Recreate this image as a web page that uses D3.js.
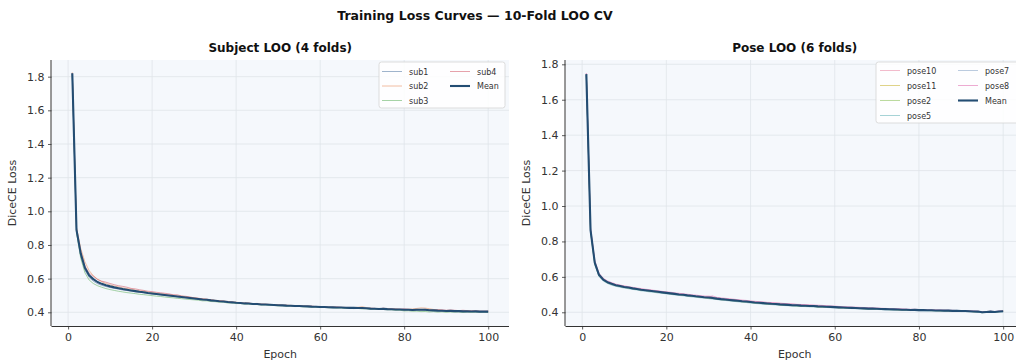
<!DOCTYPE html>
<html>
<head>
<meta charset="utf-8">
<script src="https://cdn.jsdelivr.net/npm/d3@7"></script>
<style>
  body { margin: 0; background: #fff; }
  svg { display: block; font-family: "DejaVu Sans", sans-serif; }
</style>
</head>
<body>
<svg id="chart" width="1016" height="362"></svg>
<script>
// ---- Training loss per epoch (epochs 1..100) ----
const subjectFolds = ["sub1", "sub2", "sub3", "sub4"];
const sub1 = [
  1.818, 0.880, 0.735, 0.650, 0.607, 0.585, 0.570, 0.560, 0.553, 0.547,
  0.542, 0.538, 0.532, 0.529, 0.526, 0.522, 0.519, 0.516, 0.513, 0.509,
  0.507, 0.504, 0.500, 0.498, 0.496, 0.492, 0.490, 0.487, 0.484, 0.481,
  0.479, 0.475, 0.474, 0.470, 0.469, 0.465, 0.463, 0.461, 0.458, 0.457,
  0.456, 0.452, 0.451, 0.451, 0.448, 0.447, 0.445, 0.446, 0.442, 0.441,
  0.441, 0.439, 0.440, 0.437, 0.436, 0.437, 0.434, 0.433, 0.434, 0.431,
  0.430, 0.431, 0.428, 0.428, 0.429, 0.426, 0.425, 0.427, 0.424, 0.423,
  0.424, 0.421, 0.420, 0.421, 0.418, 0.419, 0.417, 0.416, 0.417, 0.414,
  0.416, 0.413, 0.412, 0.414, 0.411, 0.410, 0.412, 0.409, 0.408, 0.410,
  0.407, 0.406, 0.408, 0.405, 0.405, 0.406, 0.404, 0.403, 0.405, 0.403
];
const sub2 = [
  1.825, 0.905, 0.780, 0.700, 0.648, 0.618, 0.597, 0.582, 0.571, 0.563,
  0.556, 0.551, 0.545, 0.541, 0.538, 0.532, 0.528, 0.526, 0.520, 0.517,
  0.514, 0.510, 0.508, 0.504, 0.502, 0.497, 0.496, 0.492, 0.489, 0.487,
  0.482, 0.481, 0.477, 0.475, 0.471, 0.470, 0.466, 0.465, 0.461, 0.460,
  0.457, 0.456, 0.454, 0.452, 0.453, 0.449, 0.448, 0.447, 0.445, 0.446,
  0.443, 0.442, 0.441, 0.440, 0.439, 0.437, 0.438, 0.435, 0.435, 0.433,
  0.433, 0.431, 0.431, 0.430, 0.429, 0.429, 0.427, 0.428, 0.430, 0.433,
  0.428, 0.424, 0.422, 0.423, 0.421, 0.420, 0.419, 0.420, 0.417, 0.416,
  0.418, 0.420, 0.423, 0.426, 0.425, 0.421, 0.417, 0.414, 0.411, 0.410,
  0.410, 0.408, 0.409, 0.407, 0.408, 0.406, 0.406, 0.405, 0.404, 0.405
];
const sub3 = [
  1.815, 0.875, 0.722, 0.635, 0.592, 0.571, 0.558, 0.549, 0.541, 0.535,
  0.530, 0.525, 0.521, 0.517, 0.514, 0.511, 0.507, 0.505, 0.502, 0.499,
  0.496, 0.494, 0.491, 0.488, 0.486, 0.483, 0.481, 0.478, 0.476, 0.474,
  0.472, 0.468, 0.468, 0.464, 0.463, 0.460, 0.460, 0.455, 0.456, 0.452,
  0.452, 0.449, 0.449, 0.446, 0.446, 0.443, 0.444, 0.440, 0.441, 0.438,
  0.439, 0.436, 0.437, 0.434, 0.435, 0.432, 0.433, 0.430, 0.431, 0.428,
  0.429, 0.427, 0.427, 0.425, 0.426, 0.423, 0.424, 0.422, 0.423, 0.420,
  0.421, 0.418, 0.419, 0.417, 0.417, 0.415, 0.415, 0.412, 0.412, 0.408,
  0.409, 0.406, 0.407, 0.404, 0.405, 0.402, 0.404, 0.401, 0.403, 0.400,
  0.402, 0.401, 0.402, 0.399, 0.402, 0.399, 0.401, 0.400, 0.401, 0.399
];
const sub4 = [
  1.822, 0.900, 0.763, 0.675, 0.633, 0.614, 0.595, 0.585, 0.579, 0.571,
  0.564, 0.558, 0.554, 0.549, 0.542, 0.539, 0.534, 0.530, 0.525, 0.523,
  0.519, 0.516, 0.513, 0.510, 0.504, 0.504, 0.497, 0.495, 0.491, 0.486,
  0.484, 0.479, 0.478, 0.474, 0.470, 0.468, 0.468, 0.462, 0.462, 0.458,
  0.456, 0.454, 0.455, 0.450, 0.450, 0.448, 0.448, 0.446, 0.445, 0.442,
  0.442, 0.442, 0.439, 0.440, 0.439, 0.437, 0.436, 0.437, 0.433, 0.435,
  0.433, 0.430, 0.431, 0.432, 0.429, 0.429, 0.429, 0.428, 0.424, 0.425,
  0.422, 0.424, 0.424, 0.418, 0.425, 0.421, 0.422, 0.419, 0.419, 0.421,
  0.418, 0.416, 0.417, 0.415, 0.418, 0.414, 0.413, 0.415, 0.415, 0.412,
  0.414, 0.412, 0.410, 0.412, 0.410, 0.409, 0.410, 0.407, 0.407, 0.408
];

const poseFolds = ["pose10", "pose11", "pose2", "pose5", "pose7", "pose8"];
const pose10 = [
  1.748, 0.872, 0.688, 0.618, 0.590, 0.574, 0.565, 0.557, 0.551, 0.547,
  0.543, 0.538, 0.535, 0.531, 0.527, 0.525, 0.521, 0.519, 0.515, 0.513,
  0.509, 0.507, 0.504, 0.502, 0.498, 0.496, 0.493, 0.491, 0.488, 0.492,
  0.485, 0.481, 0.478, 0.476, 0.474, 0.471, 0.469, 0.466, 0.465, 0.462,
  0.460, 0.458, 0.457, 0.455, 0.453, 0.452, 0.451, 0.449, 0.447, 0.446,
  0.444, 0.443, 0.441, 0.440, 0.439, 0.437, 0.436, 0.435, 0.433, 0.432,
  0.430, 0.429, 0.428, 0.427, 0.426, 0.425, 0.424, 0.423, 0.423, 0.422,
  0.421, 0.420, 0.419, 0.418, 0.418, 0.417, 0.416, 0.415, 0.415, 0.414,
  0.414, 0.413, 0.413, 0.412, 0.411, 0.411, 0.410, 0.410, 0.409, 0.409,
  0.408, 0.408, 0.407, 0.406, 0.403, 0.404, 0.405, 0.404, 0.406, 0.407
];
const pose11 = [
  1.743, 0.860, 0.676, 0.609, 0.583, 0.568, 0.559, 0.552, 0.547, 0.541,
  0.538, 0.534, 0.529, 0.526, 0.523, 0.519, 0.517, 0.513, 0.511, 0.507,
  0.505, 0.501, 0.499, 0.497, 0.493, 0.491, 0.488, 0.486, 0.482, 0.480,
  0.478, 0.476, 0.471, 0.471, 0.466, 0.466, 0.463, 0.459, 0.459, 0.456,
  0.452, 0.452, 0.450, 0.446, 0.444, 0.446, 0.441, 0.441, 0.438, 0.438,
  0.437, 0.434, 0.435, 0.432, 0.434, 0.430, 0.429, 0.430, 0.427, 0.428,
  0.425, 0.426, 0.423, 0.425, 0.421, 0.422, 0.419, 0.420, 0.418, 0.419,
  0.416, 0.417, 0.415, 0.416, 0.413, 0.414, 0.412, 0.413, 0.411, 0.412,
  0.410, 0.411, 0.409, 0.410, 0.408, 0.409, 0.407, 0.408, 0.406, 0.407,
  0.405, 0.406, 0.402, 0.404, 0.398, 0.402, 0.402, 0.402, 0.403, 0.406
];
const pose2 = [
  1.741, 0.858, 0.674, 0.607, 0.581, 0.567, 0.558, 0.550, 0.546, 0.540,
  0.537, 0.533, 0.530, 0.525, 0.523, 0.520, 0.516, 0.514, 0.511, 0.508,
  0.505, 0.502, 0.499, 0.497, 0.494, 0.491, 0.488, 0.486, 0.483, 0.480,
  0.477, 0.475, 0.472, 0.470, 0.467, 0.465, 0.462, 0.460, 0.458, 0.455,
  0.453, 0.451, 0.449, 0.447, 0.446, 0.444, 0.442, 0.440, 0.439, 0.437,
  0.436, 0.435, 0.434, 0.433, 0.432, 0.431, 0.430, 0.429, 0.428, 0.427,
  0.426, 0.425, 0.424, 0.423, 0.422, 0.421, 0.421, 0.419, 0.419, 0.418,
  0.417, 0.416, 0.415, 0.415, 0.414, 0.413, 0.413, 0.412, 0.412, 0.411,
  0.411, 0.410, 0.410, 0.409, 0.409, 0.408, 0.408, 0.407, 0.407, 0.406,
  0.406, 0.405, 0.404, 0.403, 0.398, 0.401, 0.403, 0.401, 0.404, 0.405
];
const pose5 = [
  1.740, 0.852, 0.668, 0.602, 0.577, 0.563, 0.553, 0.547, 0.541, 0.537,
  0.533, 0.529, 0.526, 0.521, 0.519, 0.515, 0.513, 0.509, 0.507, 0.504,
  0.501, 0.498, 0.495, 0.493, 0.490, 0.487, 0.485, 0.482, 0.480, 0.477,
  0.474, 0.472, 0.469, 0.467, 0.464, 0.462, 0.459, 0.457, 0.455, 0.452,
  0.450, 0.448, 0.446, 0.445, 0.443, 0.441, 0.440, 0.438, 0.437, 0.435,
  0.434, 0.433, 0.432, 0.431, 0.430, 0.429, 0.428, 0.427, 0.426, 0.425,
  0.424, 0.423, 0.422, 0.421, 0.420, 0.419, 0.418, 0.417, 0.417, 0.416,
  0.415, 0.414, 0.413, 0.413, 0.412, 0.411, 0.411, 0.410, 0.410, 0.409,
  0.409, 0.408, 0.408, 0.407, 0.407, 0.406, 0.406, 0.405, 0.405, 0.404,
  0.404, 0.403, 0.402, 0.401, 0.397, 0.399, 0.401, 0.399, 0.402, 0.403
];
const pose7 = [
  1.746, 0.867, 0.682, 0.613, 0.586, 0.571, 0.562, 0.554, 0.549, 0.544,
  0.541, 0.536, 0.533, 0.528, 0.526, 0.522, 0.520, 0.516, 0.514, 0.510,
  0.507, 0.505, 0.501, 0.500, 0.496, 0.494, 0.490, 0.489, 0.485, 0.483,
  0.481, 0.476, 0.476, 0.471, 0.471, 0.466, 0.466, 0.463, 0.460, 0.458,
  0.455, 0.454, 0.451, 0.450, 0.447, 0.447, 0.444, 0.443, 0.443, 0.438,
  0.440, 0.436, 0.438, 0.434, 0.436, 0.432, 0.434, 0.430, 0.432, 0.428,
  0.430, 0.426, 0.428, 0.424, 0.426, 0.422, 0.424, 0.420, 0.423, 0.419,
  0.421, 0.417, 0.419, 0.416, 0.418, 0.414, 0.417, 0.413, 0.416, 0.412,
  0.415, 0.411, 0.414, 0.410, 0.413, 0.409, 0.412, 0.408, 0.411, 0.407,
  0.410, 0.406, 0.407, 0.404, 0.402, 0.402, 0.406, 0.402, 0.407, 0.406
];
const pose8 = [
  1.750, 0.876, 0.692, 0.621, 0.593, 0.577, 0.568, 0.559, 0.554, 0.549,
  0.545, 0.541, 0.537, 0.534, 0.530, 0.528, 0.524, 0.522, 0.518, 0.516,
  0.513, 0.510, 0.507, 0.505, 0.502, 0.499, 0.497, 0.494, 0.492, 0.489,
  0.492, 0.484, 0.481, 0.479, 0.476, 0.474, 0.471, 0.469, 0.467, 0.464,
  0.462, 0.460, 0.458, 0.456, 0.455, 0.453, 0.451, 0.450, 0.448, 0.447,
  0.445, 0.444, 0.443, 0.442, 0.441, 0.440, 0.439, 0.437, 0.436, 0.435,
  0.433, 0.432, 0.431, 0.430, 0.429, 0.428, 0.427, 0.426, 0.425, 0.424,
  0.423, 0.422, 0.421, 0.420, 0.420, 0.419, 0.418, 0.417, 0.417, 0.416,
  0.415, 0.414, 0.414, 0.413, 0.413, 0.412, 0.412, 0.411, 0.410, 0.410,
  0.409, 0.408, 0.407, 0.406, 0.402, 0.404, 0.406, 0.404, 0.407, 0.408
];

const xTicks = [0, 20, 40, 60, 80, 100];
const yTicks = [0.4, 0.6, 0.8, 1.0, 1.2, 1.4, 1.6, 1.8];

// ---- Drawing ----
const svg = d3.select("#chart");
const axisColor = "#333";
const meanColor = "#234d73";

svg.append("text")
  .attr("x", 475).attr("y", 20)
  .attr("text-anchor", "middle")
  .attr("font-size", 12.5).attr("font-weight", "bold")
  .attr("fill", "#111")
  .text("Training Loss Curves \u2014 10-Fold LOO CV");

function drawPanel(cfg) {
  const x = d3.scaleLinear().domain([-3.95, 104.95]).range([cfg.left, cfg.right]);
  const y = d3.scaleLinear().domain(cfg.yDomain).range([cfg.bottom, cfg.top]);
  const g = svg.append("g");

  const clipId = "clip-" + cfg.id;
  svg.append("clipPath").attr("id", clipId)
    .append("rect")
    .attr("x", cfg.left).attr("y", cfg.top)
    .attr("width", cfg.right - cfg.left).attr("height", cfg.bottom - cfg.top);

  // plot background
  g.append("rect")
    .attr("x", cfg.left).attr("y", cfg.top)
    .attr("width", cfg.right - cfg.left).attr("height", cfg.bottom - cfg.top)
    .attr("fill", "#f5f8fc");

  // grid
  const grid = g.append("g").attr("stroke", "#dfe4ea").attr("stroke-width", 0.8);
  grid.selectAll(".gx").data(xTicks).join("line")
    .attr("x1", d => x(d)).attr("x2", d => x(d))
    .attr("y1", cfg.top).attr("y2", cfg.bottom);
  grid.selectAll(".gy").data(yTicks).join("line")
    .attr("x1", cfg.left).attr("x2", cfg.right)
    .attr("y1", d => y(d)).attr("y2", d => y(d));

  // curves
  const line = d3.line().x((d, i) => x(i + 1)).y(d => y(d));
  const plot = g.append("g").attr("clip-path", `url(#${clipId})`);
  cfg.series.forEach((s, k) => {
    plot.append("path")
      .datum(s)
      .attr("fill", "none")
      .attr("stroke", cfg.colors[k])
      .attr("stroke-width", 0.9)
      .attr("stroke-opacity", 0.65)
      .attr("d", line);
  });
  const mean = cfg.series[0].map((_, i) => d3.mean(cfg.series, s => s[i]));
  plot.append("path")
    .datum(mean)
    .attr("fill", "none")
    .attr("stroke", meanColor)
    .attr("stroke-width", 2.1)
    .attr("stroke-linejoin", "round")
    .attr("d", line);

  // axes
  const xAxis = d3.axisBottom(x).tickValues(xTicks).tickSize(3.5).tickPadding(3.5).tickFormat(d3.format("d"));
  const yAxis = d3.axisLeft(y).tickValues(yTicks).tickSize(3.5).tickPadding(3.5).tickFormat(d3.format(".1f"));
  const gx = g.append("g").attr("transform", `translate(0,${cfg.bottom})`).call(xAxis);
  const gy = g.append("g").attr("transform", `translate(${cfg.left},0)`).call(yAxis);
  [gx, gy].forEach(a => {
    a.select(".domain").attr("stroke", axisColor).attr("stroke-width", 1);
    a.selectAll(".tick line").attr("stroke", axisColor).attr("stroke-width", 0.8);
    a.selectAll(".tick text").attr("fill", axisColor)
      .attr("font-size", 11).attr("font-family", "DejaVu Sans, sans-serif");
  });
  gx.select(".domain").attr("d", `M${cfg.left},0.5H${cfg.right}`);
  gy.select(".domain").attr("d", `M-0.5,${cfg.bottom}V${cfg.top}`);

  // titles and labels
  const cx = (cfg.left + cfg.right) / 2;
  g.append("text").attr("x", cx).attr("y", 52)
    .attr("text-anchor", "middle").attr("font-size", 12).attr("font-weight", "bold")
    .attr("fill", "#111").text(cfg.title);
  g.append("text").attr("x", cx).attr("y", 358)
    .attr("text-anchor", "middle").attr("font-size", 11).attr("fill", axisColor)
    .text("Epoch");
  g.append("text")
    .attr("transform", `translate(${cfg.left - 36},${(cfg.top + cfg.bottom) / 2}) rotate(-90)`)
    .attr("text-anchor", "middle").attr("font-size", 11).attr("fill", axisColor)
    .text("DiceCE Loss");

  // legend (two columns, filled column by column)
  const L = cfg.legend;
  const names = cfg.names.concat(["Mean"]);
  const colors = cfg.colors.concat([meanColor]);
  const rows = Math.ceil(names.length / 2);
  const lg = g.append("g");
  lg.append("rect")
    .attr("x", L.x).attr("y", L.y).attr("width", L.w).attr("height", L.h)
    .attr("rx", 2.5)
    .attr("fill", "#fff").attr("fill-opacity", 0.85)
    .attr("stroke", "#d4d4d4").attr("stroke-width", 0.8);
  names.forEach((n, i) => {
    const col = Math.floor(i / rows), row = i % rows;
    const hx = L.x + L.pad + col * L.colW;
    const hy = L.y + L.firstRow + row * L.rowH;
    const isMean = n === "Mean";
    lg.append("line")
      .attr("x1", hx).attr("x2", hx + 20).attr("y1", hy).attr("y2", hy)
      .attr("stroke", colors[i])
      .attr("stroke-width", isMean ? 2.1 : 0.9)
      .attr("stroke-opacity", isMean ? 1 : 0.65);
    lg.append("text")
      .attr("x", hx + 27).attr("y", hy + 3)
      .attr("font-size", 8).attr("fill", "#333")
      .text(n);
  });
}

drawPanel({
  id: "subject", title: "Subject LOO (4 folds)",
  left: 51.5, right: 509, top: 60, bottom: 326,
  yDomain: [0.3186, 1.899],
  names: subjectFolds,
  series: [sub1, sub2, sub3, sub4],
  colors: ["#5b7fa8", "#e8925f", "#66b466", "#d45f70"],
  legend: { x: 379, y: 62, w: 126, h: 46, pad: 3, colW: 68, firstRow: 9.5, rowH: 14.5 }
});

drawPanel({
  id: "pose", title: "Pose LOO (6 folds)",
  left: 565.5, right: 1024, top: 60, bottom: 326,
  yDomain: [0.3226, 1.8243],
  names: poseFolds,
  series: [pose10, pose11, pose2, pose5, pose7, pose8],
  colors: ["#e88aa8", "#c9b335", "#8cc05a", "#66b3b8", "#8aa6c8", "#e06fb2"],
  legend: { x: 876, y: 62, w: 150, h: 61, pad: 4, colW: 78, firstRow: 8.5, rowH: 15 }
});
</script>
</body>
</html>
